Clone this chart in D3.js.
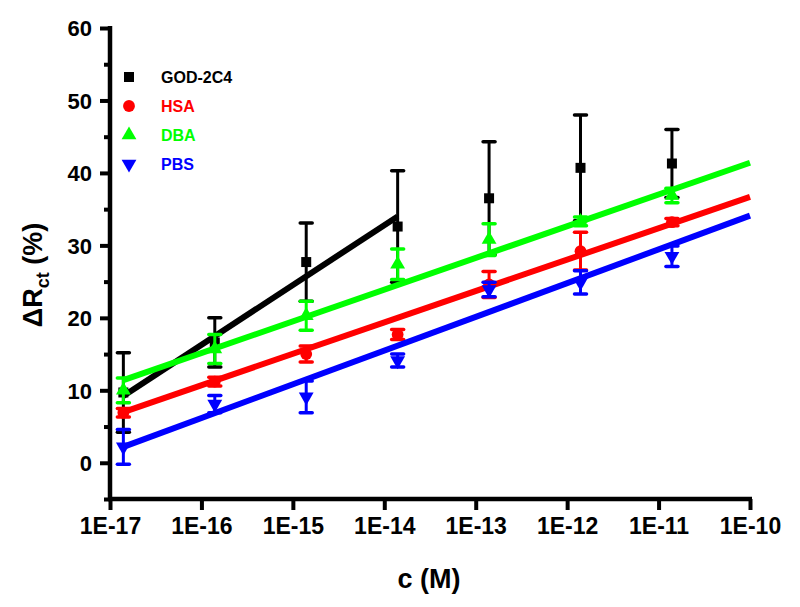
<!DOCTYPE html>
<html><head><meta charset="utf-8">
<script src="https://cdn.jsdelivr.net/npm/d3@7/dist/d3.min.js"></script>
<style>body{margin:0;background:#fff}svg{display:block}text{font-family:"Liberation Sans",Arial,sans-serif;font-weight:bold}</style>
</head><body><svg id="c" width="800" height="607"></svg>
<script>
const seriesNames = ["GOD-2C4", "HSA", "DBA", "PBS"];
const seriesColors = ["#000000", "#ff0000", "#00ff00", "#0000ff"];
const seriesShapes = ["square", "circle", "triangleUp", "triangleDown"];
const concentrations = [1.4e-17, 1.4e-16, 1.4e-15, 1.4e-14, 1.4e-13, 1.4e-12, 1.4e-11];
const godMean = [9.7, 16.6, 27.7, 32.6, 36.5, 40.7, 41.3];
const godErr  = [5.5, 3.4, 5.4, 7.7, 7.8, 7.3, 4.7];
const hsaMean = [6.9, 11.2, 15.0, 17.7, 24.6, 29.2, 33.2];
const hsaErr  = [0.6, 0.6, 1.1, 0.7, 1.8, 2.6, 0.5];
const dbaMean = [10.0, 15.7, 20.3, 27.4, 30.8, 33.3, 36.9];
const dbaErr  = [1.7, 2.0, 2.0, 2.1, 2.2, 0.6, 1.0];
const pbsMean = [2.2, 8.1, 9.1, 14.1, 23.9, 24.9, 28.5];
const pbsErr  = [2.4, 1.2, 2.2, 0.9, 1.0, 1.6, 1.4];
// linear fits (value at start and end concentration)
const fitXStart = [1.4e-17, 1.4e-17, 1.4e-17, 1.4e-17];
const fitXEnd   = [1.4e-14, 1e-10, 1e-10, 1e-10];
const fitYStart = [9.2, 7.0, 11.4, 2.2];
const fitYEnd   = [34.0, 36.7, 41.4, 34.1];
const xTickValues = [1e-17, 1e-16, 1e-15, 1e-14, 1e-13, 1e-12, 1e-11, 1e-10];
const xTickLabels = ["1E-17", "1E-16", "1E-15", "1E-14", "1E-13", "1E-12", "1E-11", "1E-10"];
const yMajorTicks = [0, 10, 20, 30, 40, 50, 60];
const yMinorTicks = [-5, 5, 15, 25, 35, 45, 55];

const means = [godMean, hsaMean, dbaMean, pbsMean];
const errs = [godErr, hsaErr, dbaErr, pbsErr];

const svg = d3.select("#c");
const x = d3.scaleLog().domain([1e-17, 1e-10]).range([110, 750]);
const y = d3.scaleLinear().domain([-5, 60]).range([499, 28]);

// axes
const yAxisMajor = d3.axisLeft(y).tickValues(yMajorTicks).tickSize(10).tickPadding(8).tickFormat(d3.format("d"));
const gy = svg.append("g").attr("transform", "translate(110,0)").call(yAxisMajor);
gy.select(".domain").remove();
gy.selectAll(".tick line").attr("stroke", "#000").attr("stroke-width", 4);
gy.selectAll(".tick text").attr("font-size", 22).attr("fill", "#000").attr("dy", "0.36em");
const gyMinor = svg.append("g").attr("transform", "translate(110,0)")
  .call(d3.axisLeft(y).tickValues(yMinorTicks).tickSize(6).tickFormat(""));
gyMinor.select(".domain").remove();
gyMinor.selectAll(".tick line").attr("stroke", "#000").attr("stroke-width", 4);

const gx = svg.append("g").attr("transform", "translate(0,499)")
  .call(d3.axisBottom(x).tickValues(xTickValues).tickSize(11).tickPadding(8)
    .tickFormat((d, i) => xTickLabels[i]));
gx.select(".domain").remove();
gx.selectAll(".tick line").attr("stroke", "#000").attr("stroke-width", 4);
gx.selectAll(".tick text").attr("font-size", 23).attr("fill", "#000");

svg.append("line").attr("x1", 110).attr("x2", 110).attr("y1", y(60) - 2).attr("y2", y(-5) + 2)
  .attr("stroke", "#000").attr("stroke-width", 4.5);
svg.append("line").attr("x1", 108).attr("x2", 752).attr("y1", 499).attr("y2", 499)
  .attr("stroke", "#000").attr("stroke-width", 4.5);

// titles
svg.append("text").attr("x", 429).attr("y", 588).attr("text-anchor", "middle")
  .attr("font-size", 27).text("c (M)");
const yt = svg.append("text").attr("transform", "translate(42,275) rotate(-90)")
  .attr("text-anchor", "middle").attr("font-size", 27);
yt.append("tspan").text("\u0394R");
yt.append("tspan").attr("font-size", 18).attr("dy", 7).text("ct");
yt.append("tspan").attr("dy", -7).text(" (%)");

function symbolFor(shape, size) {
  const types = {square: d3.symbolSquare, circle: d3.symbolCircle, triangleUp: d3.symbolTriangle, triangleDown: d3.symbolTriangle};
  return d3.symbol().type(types[shape]).size(size)();
}
const sizes = {square: 100, circle: 110, triangleUp: 95, triangleDown: 95};

// series
seriesNames.forEach((name, s) => {
  const col = seriesColors[s];
  const g = svg.append("g");
  const pts = concentrations.map((c, i) => ({c, m: means[s][i], e: errs[s][i]}));
  // error bars
  pts.forEach(p => {
    const px = x(p.c);
    g.append("line").attr("x1", px).attr("x2", px).attr("y1", y(p.m + p.e)).attr("y2", y(p.m - p.e))
      .attr("stroke", col).attr("stroke-width", 3);
    [p.m + p.e, p.m - p.e].forEach(v => {
      g.append("line").attr("x1", px - 6).attr("x2", px + 6).attr("y1", y(v)).attr("y2", y(v))
        .attr("stroke", col).attr("stroke-width", 3.5).attr("stroke-linecap", "round");
    });
  });
  // fit line
  g.append("line").attr("x1", x(fitXStart[s])).attr("x2", x(fitXEnd[s]))
    .attr("y1", y(fitYStart[s])).attr("y2", y(fitYEnd[s]))
    .attr("stroke", col).attr("stroke-width", 6);
  // markers
  pts.forEach(p => {
    const sh = seriesShapes[s];
    g.append("path").attr("d", symbolFor(sh, sizes[sh]))
      .attr("transform", `translate(${x(p.c)},${y(p.m)})` + (sh === "triangleDown" ? " rotate(180)" : ""))
      .attr("fill", col);
  });
  // legend
  const ly = 77 + s * 29;
  const sh = seriesShapes[s];
  svg.append("path").attr("d", symbolFor(sh, sizes[sh]))
    .attr("transform", `translate(129,${ly})` + (sh === "triangleDown" ? " rotate(180)" : ""))
    .attr("fill", col);
  svg.append("text").attr("x", 161).attr("y", ly + 6).attr("font-size", 16).attr("fill", col).text(name);
});
</script></body></html>
